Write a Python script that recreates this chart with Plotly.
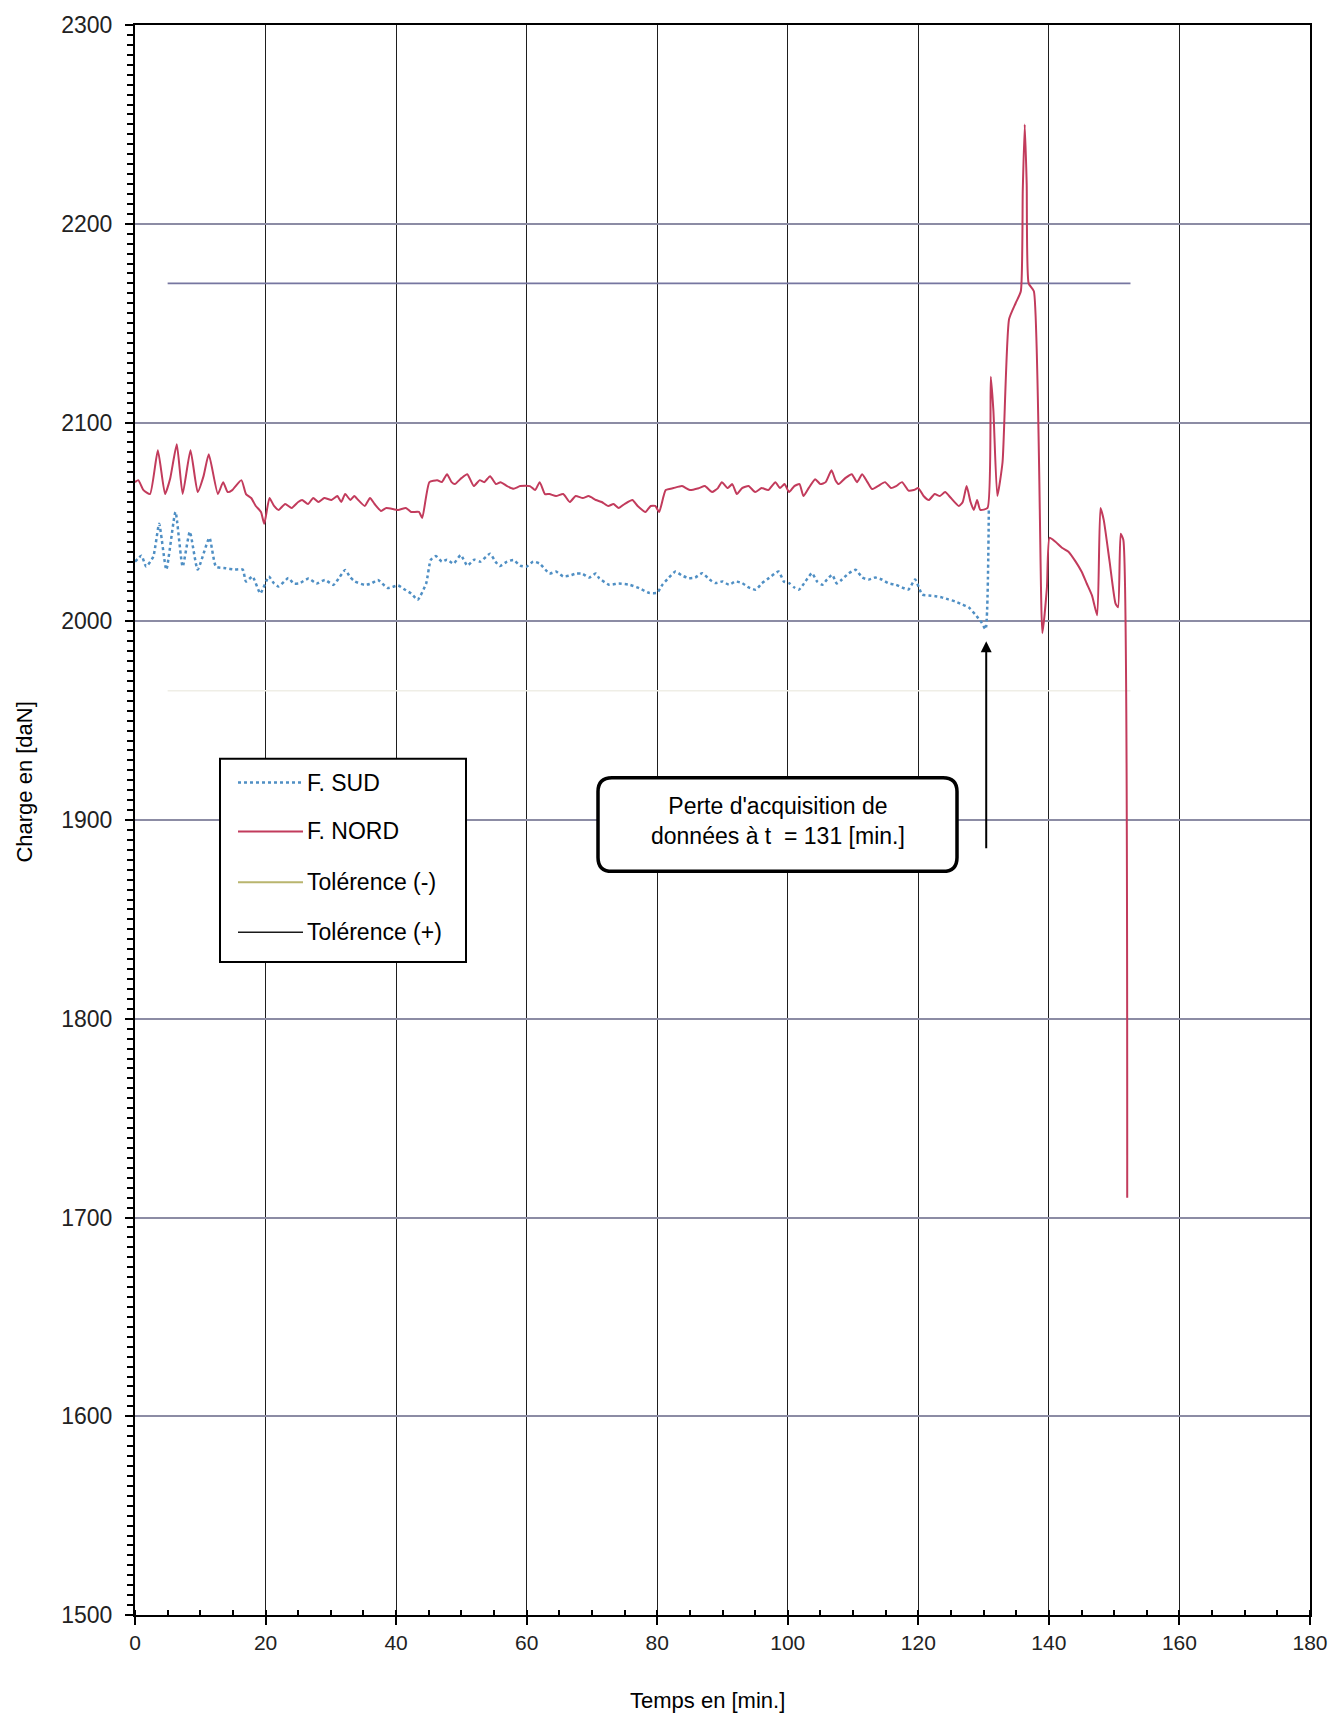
import plotly.graph_objects as go

# ---------------- data ----------------
nord_t = [0, 0.5, 1.3, 2.3, 3.5, 4.6, 5.4, 6.4, 7.3, 8.5, 9.6, 10.5, 11.3, 12.7, 13.5, 14.2, 14.9, 16.3, 17, 17.8,
          18.5, 19.3, 19.8, 20.6, 21.3, 22, 23, 24, 25, 25.6, 26.5, 27.3, 28.1, 29, 30.1, 31, 31.6, 32.2, 33, 33.6,
          34.2, 35.2, 36, 36.7, 37.7, 38.5, 40.3, 41.5, 42.3, 43.5, 44, 45.1, 46.3, 47, 47.8, 48.5, 49, 50, 50.9, 51.9,
          52.8, 53.5, 54.4, 55.3, 56, 57, 58, 59, 60.5, 61.3, 62, 62.8, 63.5, 64.5, 65.6, 66.6, 67.5, 68.6, 69.5, 70.6,
          71.5, 72.5, 73.3, 74.1, 75, 76.2, 77, 78.2, 79, 79.7, 80.3, 81.3, 82.5, 83.8, 85, 86.4, 87.3, 88.4, 89.3, 89.9,
          90.8, 91.5, 92.2, 93, 94, 95, 96, 97, 98.1, 98.8, 99.5, 100.2, 101, 101.8, 102.4, 103.2, 104.2, 105, 105.8, 106.7,
          107.3, 107.8, 108.8, 109.8, 110.6, 111.4, 112.2, 112.9, 113.8, 114.9, 115.8, 116.6, 117.5, 118.5, 119.3, 120,
          120.8, 121.6, 122.5, 123.3, 124.1, 125, 126.2, 126.8, 127.4, 128, 128.5, 129, 129.5, 130.6, 131.1, 131.5,
          132.1, 132.9, 133.9, 134.9, 135.7, 136, 136.3, 136.6, 136.9, 137.7, 139, 139.7, 140.1, 141, 142, 143, 144.1,
          145, 145.8, 146.6, 147.4, 147.9, 148.4, 149.3, 150.2, 150.6, 151, 151.4, 152]
nord_v = [2070, 2071, 2066, 2064, 2086, 2064, 2072, 2089, 2064, 2086, 2065, 2073, 2084, 2064, 2070, 2065, 2066, 2071, 2064, 2062,
          2058, 2055, 2049, 2062, 2058, 2056, 2059, 2057, 2060, 2061, 2059, 2062, 2060, 2062, 2061, 2063, 2060, 2064, 2061, 2063,
          2061, 2058, 2062, 2059, 2055.5, 2057, 2056, 2057, 2055, 2055, 2052, 2070, 2071, 2070, 2074, 2070, 2069, 2072, 2074, 2068,
          2071, 2070, 2073, 2069, 2070, 2068, 2066.7, 2068, 2068, 2066, 2070, 2064, 2064, 2063, 2064, 2060, 2063, 2062, 2063, 2061,
          2060, 2058, 2059, 2057, 2059, 2061, 2058, 2055, 2058, 2058, 2055, 2066, 2067, 2068, 2066, 2067, 2068, 2065, 2067, 2070,
          2067, 2069, 2064, 2067, 2068, 2065, 2067, 2066, 2070, 2067, 2069, 2065, 2068, 2069, 2063, 2067, 2071.5, 2069, 2070, 2076,
          2071, 2069, 2072, 2074, 2070, 2074, 2070, 2066.5, 2068, 2070, 2067, 2068, 2070, 2065.7, 2066, 2067,
          2063, 2061, 2064, 2063, 2065, 2062, 2058, 2060, 2068, 2060, 2056, 2061, 2056, 2057, 2123, 2106,
          2063, 2080, 2152, 2160, 2166, 2217, 2250, 2220, 2170, 2166, 1994, 2017, 2042, 2040, 2037, 2035, 2030,
          2025, 2019, 2013, 2003, 2057, 2051, 2030, 2009, 2007, 2044, 2041, 1710]

sud_t = [0, 1, 1.7, 2.8, 3.7, 4.8, 6.2, 7.3, 8.4, 9.6, 11.4, 12.4, 13.9, 15.2, 16.5, 17, 18, 19.2, 20.5, 21.3,
         22, 23.5, 24.3, 25.1, 26.6, 27.8, 29.1, 30.4, 31.3, 32.2, 33, 33.7, 35.2, 36.2, 37.2, 38.7, 40.3, 41.3, 42.3, 43.3,
         44.6, 45.3, 46.1, 47, 47.8, 48.8, 49.9, 50.9, 52, 52.9, 54.4, 55.2, 55.9, 57, 58, 59, 60, 61, 62, 63.5,
         64.5, 65.6, 66.6, 67.6, 68.5, 69.6, 70.6, 71.1, 72.6, 74.1, 75.7, 77.2, 78.7, 80, 80.8, 81.8, 82.8, 83.8, 84.8, 85.8,
         86.9, 88, 88.9, 90, 91, 92, 93, 94, 95.1, 96, 97.1, 98.6, 99.4, 100.2, 101, 101.7, 102.7, 103.7, 104.5, 105.3,
         106, 106.8, 107.5, 108.3, 109.3, 110.4, 111.4, 112.4, 113.4, 114.4, 115.5, 116.5, 117.5, 118.5, 119.5, 120.6,
         121.6, 122.6, 123.6, 124.6, 125.6, 126.7, 127.7, 128.7, 129.7, 130.3, 130.8]
sud_v = [2030, 2033, 2027.5, 2032.5, 2049, 2026, 2055, 2027.5, 2045, 2026, 2042, 2027.5, 2026.7, 2026, 2026, 2020, 2022.5, 2014, 2022.5, 2019,
         2017.5, 2021.7, 2019, 2019, 2021.5, 2019, 2020.8, 2018.3, 2022, 2025.8, 2022, 2020, 2018.3, 2019, 2020.8, 2016.7, 2018, 2016, 2014, 2010.8,
         2019, 2030.8, 2032.8, 2030, 2031, 2029, 2033.3, 2028, 2031, 2030, 2034, 2030, 2027.8, 2030, 2030.8, 2028, 2027.5, 2030, 2029, 2024,
         2025, 2022.5, 2023, 2024, 2023.9, 2022, 2024, 2021.7, 2018.4, 2019, 2018.4, 2016.7, 2014.3, 2014.3, 2018.4, 2022, 2025, 2023, 2021.7, 2022,
         2024.2, 2021, 2019.2, 2020, 2018.4, 2020, 2019.2, 2017, 2015.9, 2019, 2021.7, 2025, 2020, 2019.2, 2017, 2015.9, 2020, 2024.2, 2020, 2018.4,
         2021, 2023.4, 2019, 2021, 2024, 2025.9, 2022, 2021, 2022, 2021, 2019, 2018.4, 2017, 2016, 2021, 2013.4,
         2013, 2012.6, 2012, 2011, 2010, 2008.5, 2007, 2003.5, 1999.3, 1996, 2057]

tol_t = [5, 152.5]
tol_minus = [1965, 1965]
tol_plus = [2170, 2170]

legend_names = ["F. SUD", "F. NORD", "Tolérence (-)", "Tolérence (+)"]
note_lines = ["Perte d'acquisition de", "données à t  = 131 [min.]"]
note_time = 131
arrow_t = 130.4
arrow_from = 1885
arrow_to = 1990

x_ticks = list(range(0, 181, 20))
y_ticks = list(range(1500, 2301, 100))

# ---------------- layout constants ----------------
W, H = 1340, 1715
ML, MR, MT, MB = 135, 30, 20, 100
PW, PH = W - ML - MR, H - MT - MB
FONT = "Liberation Sans, Arial, sans-serif"

C_SUD = "#4f8fc4"
C_NORD = "#c23b5c"
C_TMINUS = "#b9b56e"
C_TPLUS = "#1a1a1a"


def px(xp):
    return (xp - ML) / PW


def py(yp):
    return 1 - (yp - MT) / PH


fig = go.Figure()

fig.add_trace(go.Scatter(x=tol_t, y=tol_minus, mode="lines", name=legend_names[2],
                         line=dict(color="#efeee6", width=1.5), showlegend=False))
fig.add_trace(go.Scatter(x=tol_t, y=tol_plus, mode="lines", name=legend_names[3],
                         line=dict(color="#7676a0", width=1.8), showlegend=False))
fig.add_trace(go.Scatter(x=sud_t, y=sud_v, mode="lines", name=legend_names[0],
                         line=dict(color=C_SUD, width=2.5, dash="dot", shape="spline", smoothing=0.5),
                         showlegend=False))
fig.add_trace(go.Scatter(x=nord_t, y=nord_v, mode="lines", name=legend_names[1],
                         line=dict(color=C_NORD, width=2, shape="spline", smoothing=0.5), showlegend=False))

shapes = []
annotations = []

# custom legend box
lx0, lx1, ly0, ly1 = 220, 466, 756, 960
shapes.append(dict(type="rect", xref="paper", yref="paper", x0=px(lx0), x1=px(lx1), y0=py(ly1), y1=py(ly0),
                   line=dict(color="black", width=2), fillcolor="white", layer="above"))
row_y = [780, 829, 880, 930]
styles = [(C_SUD, "dot", 2.5), (C_NORD, "solid", 2), (C_TMINUS, "solid", 2), (C_TPLUS, "solid", 1.5)]
for name, yy, (col, dash, wd) in zip(legend_names, row_y, styles):
    shapes.append(dict(type="line", xref="paper", yref="paper", x0=px(238), x1=px(303), y0=py(yy), y1=py(yy),
                       line=dict(color=col, width=wd, dash=dash), layer="above"))
    annotations.append(dict(xref="paper", yref="paper", x=px(305), y=py(yy), text=name, showarrow=False,
                            xanchor="left", yanchor="middle", font=dict(family=FONT, size=23, color="black")))

# note box (rounded rectangle)
bx0, bx1, by0, by1, r = 598, 957, 775, 869, 14
path = (f"M {px(bx0 + r)},{py(by0)} L {px(bx1 - r)},{py(by0)} Q {px(bx1)},{py(by0)} {px(bx1)},{py(by0 + r)} "
        f"L {px(bx1)},{py(by1 - r)} Q {px(bx1)},{py(by1)} {px(bx1 - r)},{py(by1)} "
        f"L {px(bx0 + r)},{py(by1)} Q {px(bx0)},{py(by1)} {px(bx0)},{py(by1 - r)} "
        f"L {px(bx0)},{py(by0 + r)} Q {px(bx0)},{py(by0)} {px(bx0 + r)},{py(by0)} Z")
shapes.append(dict(type="path", xref="paper", yref="paper", path=path,
                   line=dict(color="black", width=3.5), fillcolor="white", layer="above"))
annotations.append(dict(xref="paper", yref="paper", x=px((bx0 + bx1) / 2), y=py(819),
                        text="<br>".join(note_lines), showarrow=False, align="center",
                        xanchor="center", yanchor="middle",
                        font=dict(family=FONT, size=23, color="black")))

# arrow
annotations.append(dict(x=arrow_t, y=arrow_to, ax=arrow_t, ay=arrow_from, xref="x", yref="y",
                        axref="x", ayref="y", text="", showarrow=True, arrowhead=2, arrowsize=1.1,
                        arrowwidth=2, arrowcolor="black"))

# axis titles
annotations.append(dict(xref="paper", yref="paper", x=px(707), y=py(1701), text="Temps en [min.]",
                        showarrow=False, xanchor="center", yanchor="middle",
                        font=dict(family=FONT, size=22, color="black")))
annotations.append(dict(xref="paper", yref="paper", x=px(25), y=py(780), text="Charge en [daN]",
                        showarrow=False, xanchor="center", yanchor="middle", textangle=-90,
                        font=dict(family=FONT, size=22, color="black")))

fig.update_layout(
    width=W, height=H,
    margin=dict(l=ML, r=MR, t=MT, b=MB, pad=0),
    paper_bgcolor="white", plot_bgcolor="white",
    showlegend=False,
    shapes=shapes, annotations=annotations,
    font=dict(family=FONT, color="black"),
)
fig.update_xaxes(range=[0, 180], tickvals=x_ticks, ticktext=[str(v) for v in x_ticks],
                 showgrid=True, gridcolor="#1e1e1e", gridwidth=1.4,
                 showline=True, linecolor="black", linewidth=2, mirror=True,
                 ticks="outside", ticklen=8, tickwidth=2, tickcolor="black",
                 minor=dict(dtick=5, ticks="inside", ticklen=5, tickwidth=1.5, tickcolor="black", showgrid=False),
                 tickfont=dict(family=FONT, size=21, color="#222"), zeroline=False, fixedrange=True)
fig.update_yaxes(range=[1500, 2300], tickvals=y_ticks, ticktext=[str(v) for v in y_ticks],
                 showgrid=True, gridcolor="#8c8ca4", gridwidth=1.6,
                 showline=True, linecolor="black", linewidth=2, mirror=True,
                 ticks="outside", ticklen=8, tickwidth=2, tickcolor="black",
                 minor=dict(dtick=5, ticks="outside", ticklen=6, tickwidth=1.5, tickcolor="black", showgrid=False),
                 ticklabelstandoff=8,
                 tickfont=dict(family=FONT, size=23, color="#222"), zeroline=False, fixedrange=True)

fig.write_html("out.html")
